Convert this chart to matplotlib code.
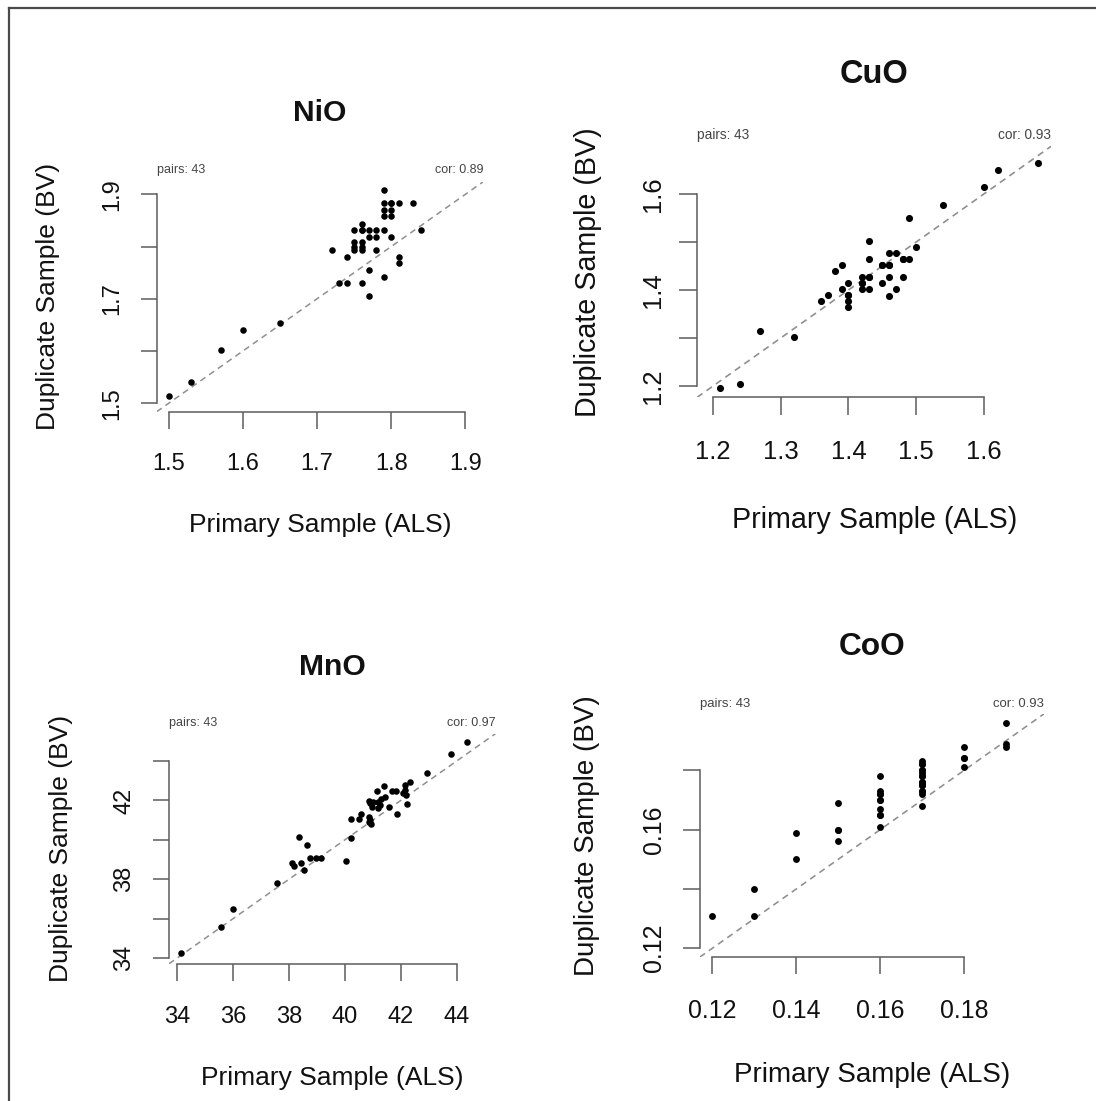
import numpy as np
import matplotlib
matplotlib.use("Agg")
import matplotlib.pyplot as plt
from matplotlib.lines import Line2D

plt.rcParams['font.family'] = ['Liberation Sans', 'DejaVu Sans']

# ---------------- data ----------------
nio_x = [1.50, 1.53, 1.57, 1.60, 1.65, 1.72, 1.74, 1.73, 1.74, 1.76, 1.77, 1.77, 1.79,
         1.75, 1.76, 1.75, 1.76, 1.75, 1.76, 1.76, 1.75, 1.76, 1.77, 1.78, 1.79,
         1.77, 1.78, 1.78, 1.80, 1.79, 1.79, 1.80, 1.81, 1.79, 1.80, 1.79, 1.80,
         1.83, 1.84, 1.81, 1.81, 1.76, 1.80]
nio_y = [1.513, 1.540, 1.602, 1.640, 1.653, 1.794, 1.781, 1.730, 1.730, 1.730, 1.705, 1.755, 1.742,
         1.808, 1.808, 1.800, 1.800, 1.794, 1.794, 1.844, 1.832, 1.832, 1.832, 1.832, 1.832,
         1.819, 1.819, 1.794, 1.819, 1.908, 1.883, 1.883, 1.883, 1.870, 1.870, 1.858, 1.858,
         1.883, 1.832, 1.780, 1.768, 1.832, 1.883]

cuo_x = [1.21, 1.24, 1.27, 1.32, 1.36, 1.37, 1.38, 1.39, 1.39, 1.40, 1.40, 1.40, 1.40,
         1.42, 1.42, 1.42, 1.43, 1.43, 1.43, 1.43, 1.45, 1.45, 1.46, 1.46, 1.47,
         1.46, 1.46, 1.47, 1.48, 1.49, 1.48, 1.49, 1.50, 1.54, 1.60, 1.62, 1.68,
         1.42, 1.43, 1.40, 1.45, 1.46, 1.48]
cuo_y = [1.196, 1.205, 1.315, 1.303, 1.377, 1.390, 1.440, 1.452, 1.402, 1.414, 1.390, 1.377, 1.365,
         1.427, 1.414, 1.402, 1.427, 1.402, 1.465, 1.502, 1.414, 1.452, 1.452, 1.477, 1.477,
         1.427, 1.388, 1.402, 1.465, 1.465, 1.427, 1.550, 1.490, 1.576, 1.615, 1.650, 1.665,
         1.414, 1.427, 1.390, 1.452, 1.452, 1.465]

mno_x = [34.15, 35.57, 36.01, 37.57, 38.35, 38.64, 38.13, 38.19, 38.44, 38.56,
         38.76, 38.96, 39.14, 40.04, 40.24, 40.24, 40.52, 40.58, 40.87, 40.87, 40.93,
         40.87, 40.90, 40.96, 41.14, 41.20, 41.26, 41.40, 41.45, 41.57, 41.69, 41.82, 41.87,
         42.15, 42.15, 42.20, 42.33, 42.24, 42.93, 43.79, 44.38,
         41.00, 41.30, 40.90, 42.10, 41.20]
mno_y = [34.25, 35.59, 36.50, 37.80, 40.13, 39.74, 38.81, 38.70, 38.81, 38.46,
         39.07, 39.07, 39.07, 38.95, 40.11, 41.06, 41.06, 41.31, 41.18, 40.93, 40.79,
         41.99, 41.85, 41.69, 42.50, 41.94, 41.77, 42.75, 42.19, 41.69, 42.50, 42.50, 41.31,
         42.78, 42.53, 42.28, 42.92, 41.82, 43.39, 44.34, 44.96,
         41.90, 42.10, 41.00, 42.40, 41.60]

coo_x = [0.12, 0.13, 0.13, 0.14, 0.14, 0.15, 0.15, 0.15,
         0.16, 0.16, 0.16, 0.16, 0.16, 0.16, 0.16,
         0.17, 0.17, 0.17, 0.17, 0.17, 0.17, 0.17, 0.17, 0.17, 0.17,
         0.18, 0.18, 0.18, 0.19, 0.19, 0.19,
         0.17, 0.17, 0.17, 0.16, 0.16, 0.17, 0.17, 0.18, 0.16, 0.17, 0.17, 0.15]
coo_y = [0.131, 0.131, 0.140, 0.150, 0.159, 0.156, 0.160, 0.169,
         0.161, 0.165, 0.167, 0.170, 0.172, 0.173, 0.178,
         0.168, 0.172, 0.173, 0.175, 0.176, 0.178, 0.179, 0.180, 0.182, 0.183,
         0.181, 0.184, 0.188, 0.188, 0.189, 0.196,
         0.175, 0.175, 0.178, 0.170, 0.172, 0.180, 0.176, 0.184, 0.165, 0.173, 0.182, 0.160]

titles = ["NiO", "CuO", "MnO", "CoO"]
cors = ["cor: 0.89", "cor: 0.93", "cor: 0.97", "cor: 0.93"]
pairs_txt = "pairs: 43"
xlab = "Primary Sample (ALS)"
ylab = "Duplicate Sample (BV)"

nio_ticks = [1.5, 1.6, 1.7, 1.8, 1.9]
nio_xtl = ["1.5", "1.6", "1.7", "1.8", "1.9"]
nio_ytl = ["1.5", "", "1.7", "", "1.9"]
cuo_ticks = [1.2, 1.3, 1.4, 1.5, 1.6]
cuo_xtl = ["1.2", "1.3", "1.4", "1.5", "1.6"]
cuo_ytl = ["1.2", "", "1.4", "", "1.6"]
mno_ticks = [34, 36, 38, 40, 42, 44]
mno_xtl = ["34", "36", "38", "40", "42", "44"]
mno_ytl = ["34", "", "38", "", "42", ""]
coo_ticks = [0.12, 0.14, 0.16, 0.18]
coo_xtl = ["0.12", "0.14", "0.16", "0.18"]
coo_ytl = ["0.12", "", "0.16", ""]

# ---------------- layout (pixels) ----------------
W, H = 1096, 1101
fig = plt.figure(figsize=(W / 100, H / 100), dpi=100)
fig.patch.set_facecolor("white")

# rect: x0, y0, x1, y1 (px from top-left); offsets: title, xlabel, ylabel, xtick, ytick, small
panels = [
    (nio_x, nio_y, nio_ticks, nio_xtl, nio_ytl, (156.7, 181.7, 483.3, 411.7), (69, 113, 109, 54, 47, 12)),
    (cuo_x, cuo_y, cuo_ticks, cuo_xtl, cuo_ytl, (697.0, 146.1, 1051.4, 397.4), (72, 123, 109, 57, 47, 11.5)),
    (mno_x, mno_y, mno_ticks, mno_xtl, mno_ytl, (169.0, 733.6, 495.6, 963.8), (67, 114, 108, 55, 47, 10.5)),
    (coo_x, coo_y, coo_ticks, coo_xtl, coo_ytl, (699.7, 713.9, 1044.0, 957.2), (67, 118, 113, 55, 48, 10)),
]

axis_col = "#5c5c5c"
PX = 0.72  # points per pixel at dpi 100

for i, (xs, ys, ticks, xtl, ytl, rect, offs) in enumerate(panels):
    x0, y0, x1, y1 = rect
    w, h = x1 - x0, y1 - y0
    s = w / 326.6
    ax = fig.add_axes([x0 / W, 1 - y1 / H, w / W, h / H])
    xs = np.array(xs); ys = np.array(ys)
    lo = min(xs.min(), ys.min()); hi = max(xs.max(), ys.max())
    pad = 0.04 * (hi - lo)
    lim = (lo - pad, hi + pad)
    ax.set_xlim(lim); ax.set_ylim(lim)
    ax.axline((lim[0], lim[0]), slope=1, color="#8f8f8f", lw=1.1 * s, ls=(0, (4, 3)), zorder=2)
    ax.scatter(xs, ys, s=(4.7 * s) ** 2, c="black", linewidths=0, zorder=3)

    for sp in ("top", "right"):
        ax.spines[sp].set_visible(False)
    for sp in ("left", "bottom"):
        ax.spines[sp].set_color(axis_col)
        ax.spines[sp].set_linewidth(1.1)
        ax.spines[sp].set_bounds(ticks[0], ticks[-1])
    ax.set_xticks(ticks); ax.set_xticklabels(xtl)
    ax.set_yticks(ticks); ax.set_yticklabels(ytl)
    tlen = 16.5 * s
    fs_tick = 17 * s
    ax.tick_params(direction="out", length=tlen * PX, width=1.1, color=axis_col,
                   labelsize=fs_tick, labelcolor="#111111")
    fs_px = fs_tick / PX
    xpad = offs[3] - 0.547 * fs_px - tlen
    ax.tick_params(axis="x", pad=xpad * PX)
    ypad = offs[4] - 0.57 * fs_px - tlen
    ax.tick_params(axis="y", pad=ypad * PX, labelrotation=90)
    for lab in ax.get_yticklabels():
        lab.set_va("center")

    ax.set_title(titles[i], fontsize=21.6 * s, fontweight="bold", y=1 + offs[0] / h,
                 va="center", pad=0, color="#111111")
    ax.set_xlabel(xlab, fontsize=19 * s, color="#111111")
    ax.xaxis.set_label_coords(0.5, -offs[1] / h)
    ax.xaxis.label.set_va("center")
    ax.set_ylabel(ylab, fontsize=19 * s, color="#111111")
    ax.yaxis.set_label_coords(-offs[2] / w, 0.5)
    ax.yaxis.label.set_va("center")

    ax.text(0, 1 + offs[5] / h, pairs_txt, transform=ax.transAxes, ha="left", va="center",
            fontsize=9 * s, color="#444444")
    ax.text(1, 1 + offs[5] / h, cors[i], transform=ax.transAxes, ha="right", va="center",
            fontsize=9 * s, color="#444444")

# frame lines (top and left edges of the image)
fig.add_artist(Line2D([9 / W, 1], [1 - 7.5 / H, 1 - 7.5 / H], color="#4a4a4a", lw=1.6,
                      transform=fig.transFigure))
fig.add_artist(Line2D([9 / W, 9 / W], [0, 1 - 7.5 / H], color="#4a4a4a", lw=1.6,
                      transform=fig.transFigure))

fig.savefig("out.png", dpi=100, facecolor="white")
